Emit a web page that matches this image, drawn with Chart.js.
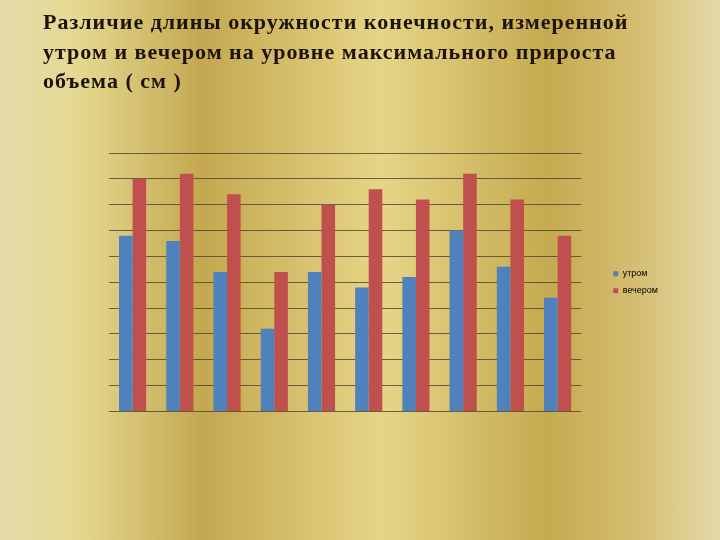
<!DOCTYPE html>
<html>
<head>
<meta charset="utf-8">
<script src="https://cdn.jsdelivr.net/npm/chart.js@4/dist/chart.umd.min.js"></script>
<style>
  html, body { margin: 0; padding: 0; }
  body {
    width: 720px; height: 540px; overflow: hidden;
    background: linear-gradient(to right, #e5dcab 0%, #e4d890 11%, #c4a850 28%, #e6d587 53%, #c5aa50 76%, #d4bd70 88%, #e4d9a8 100%);
  }
  #wrap { position: relative; width: 720px; height: 540px; }
</style>
</head>
<body>
<div id="wrap"><canvas id="chart" width="720" height="540"></canvas></div>
<script>
// data (scale 0..10, no tick labels shown)
const categories = ['1', '2', '3', '4', '5', '6', '7', '8', '9', '10'];
const morning = [6.8, 6.6, 5.4, 3.2, 5.4, 4.8, 5.2, 7.0, 5.6, 4.4];
const evening = [9.0, 9.2, 8.4, 5.4, 8.0, 8.6, 8.2, 9.2, 8.2, 6.8];
const seriesNames = ['утром', 'вечером'];
const titleLines = [
  'Различие длины окружности конечности, измеренной',
  'утром и вечером на уровне максимального прироста',
  'объема ( см )'
];

// slide title: left aligned serif, a bit wider than plain Times
const slideTitle = {
  id: 'slideTitle',
  afterDraw(chart) {
    const c = chart.ctx;
    c.save();
    c.font = 'bold 22px "Liberation Serif", "Times New Roman", serif';
    c.fillStyle = '#1c1208';
    c.textBaseline = 'alphabetic';
    c.textAlign = 'left';
    if ('letterSpacing' in c) c.letterSpacing = '1px';
    titleLines.forEach((line, i) => c.fillText(line, 43, 29 + i * 29.5));
    c.restore();
  }
};

const ctx = document.getElementById('chart');
new Chart(ctx, {
  type: 'bar',
  data: {
    labels: categories,
    datasets: [
      { label: seriesNames[0], data: morning, backgroundColor: '#4f81bd', yAxisID: 'y' },
      { label: seriesNames[1], data: evening, backgroundColor: '#c0504d', yAxisID: 'y' }
    ]
  },
  options: {
    responsive: false,
    animation: false,
    devicePixelRatio: 1,
    layout: { padding: { left: 43, right: 52, top: 153, bottom: 128.5 } },
    datasets: { bar: { categoryPercentage: 0.575, barPercentage: 1 } },
    plugins: {
      title: { display: false },
      legend: {
        position: 'right',
        fullSize: false,
        labels: {
          boxWidth: 5,
          boxHeight: 5,
          padding: 8,
          color: '#000',
          font: { family: 'Liberation Sans', size: 9 }
        }
      },
      tooltip: { enabled: false }
    },
    scales: {
      x: { display: false },
      y: {
        min: 0,
        max: 10,
        ticks: { display: false, stepSize: 1 },
        grid: { color: 'rgba(85,75,45,0.85)', lineWidth: 1, drawTicks: false },
        border: { display: false },
        afterFit: function (scale) { scale.width = 66; }
      },
      // empty spacer between plot and legend
      gap: {
        type: 'linear',
        position: 'right',
        ticks: { display: false },
        grid: { display: false },
        border: { display: false },
        afterFit: function (scale) { scale.width = 24; }
      }
    }
  },
  plugins: [slideTitle]
});
</script>
</body>
</html>
